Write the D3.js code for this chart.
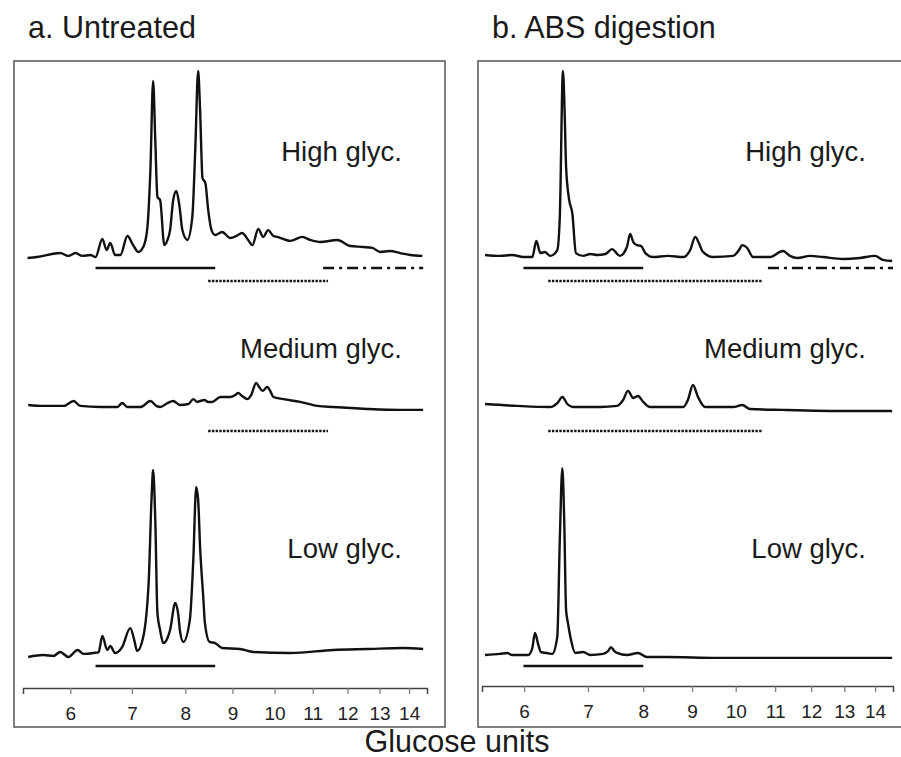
<!DOCTYPE html>
<html>
  <head>
    <meta charset="utf-8">
    <title>Glycan profiles</title>
    <script src="https://d3js.org/d3.v7.min.js"></script>
    <style>
      body { margin: 0; background: #fff; }
      text { font-family: "Liberation Sans", Arial, sans-serif; fill: #1a1a1a; }
    </style>
  </head>
  <body>
    <script>

      // glucose unit tick values on both x axes
      var glucoseTicks = [6, 7, 8, 9, 10, 11, 12, 13, 14];

      // traces: [glucose units, relative intensity]
      var untreatedHigh = [[5.39,2.1],[5.52,2.6],[5.85,4.7],[5.97,3.2],[6.08,4.7],[6.18,3.2],[6.31,3.7],[6.39,2.6],[6.50,12.1],[6.57,6.3],[6.63,10.0],[6.71,3.7],[6.80,3.7],[6.92,13.7],[7.02,8.9],[7.11,5.3],[7.20,7.9],[7.27,16.8],[7.33,48.4],[7.38,95.3],[7.42,64.2],[7.46,34.2],[7.51,32.6],[7.59,8.9],[7.65,11.6],[7.70,16.8],[7.76,32.6],[7.82,37.4],[7.88,30.0],[7.94,16.8],[8.04,11.6],[8.14,23.7],[8.20,58.9],[8.26,100.5],[8.30,80],[8.35,44.2],[8.41,41.6],[8.47,27.4],[8.54,16.8],[8.62,14.2],[8.77,15.8],[8.95,12.6],[9.09,13.7],[9.22,15.3],[9.36,11.6],[9.46,8.9],[9.60,17.4],[9.72,13.2],[9.84,16.8],[9.97,13.7],[10.07,13.2],[10.40,11.1],[10.72,13.2],[10.93,11.6],[11.21,10.5],[11.70,11.6],[12.08,8.4],[12.48,7.9],[12.77,7.4],[13.02,5.3],[13.35,5.8],[13.69,4.7],[14.04,3.7],[14.47,3.2]];
      var untreatedMedium = [[5.40,3.7],[5.61,3.2],[5.90,3.2],[6.05,5.8],[6.15,3.2],[6.47,2.6],[6.75,2.6],[6.83,4.7],[6.92,2.6],[7.15,2.6],[7.33,5.8],[7.44,3.2],[7.51,2.6],[7.65,4.7],[7.76,5.8],[7.89,3.7],[8.06,4.2],[8.16,6.8],[8.24,5.3],[8.30,5.8],[8.39,6.3],[8.47,5.3],[8.56,5.3],[8.73,7.9],[8.95,7.9],[9.06,8.9],[9.13,10],[9.22,8.4],[9.34,6.8],[9.43,8.9],[9.55,15.3],[9.62,13.2],[9.70,11.1],[9.82,13.2],[9.89,11.1],[9.97,7.9],[10.22,6.8],[10.66,5.3],[11.13,3.2],[11.58,2.6],[12.61,1.6],[13.69,1.1],[14.50,1.1]];
      var untreatedLow = [[5.40,1.6],[5.61,2.6],[5.75,2.1],[5.85,4.2],[5.97,1.6],[6.11,5.3],[6.20,3.2],[6.36,3.7],[6.44,4.2],[6.50,12.6],[6.58,5.3],[6.63,7.4],[6.71,3.7],[6.83,6.8],[6.97,16.8],[7.04,10.5],[7.09,4.7],[7.20,12.1],[7.30,42.1],[7.35,84.2],[7.38,100],[7.42,73.7],[7.46,24.7],[7.51,15.8],[7.57,8.9],[7.65,11.6],[7.70,15.8],[7.80,30.0],[7.86,23.7],[7.89,15.8],[7.96,9.5],[8.09,21.1],[8.16,52.6],[8.22,91.1],[8.26,84.2],[8.30,59.5],[8.37,31.6],[8.40,19.5],[8.50,9.5],[8.62,8.9],[8.77,6.3],[9.17,5.8],[9.48,4.2],[10.40,3.7],[11.58,5.3],[12.61,5.8],[13.79,6.3],[14.50,5.8]];

      var absHigh = [[5.46,3.7],[5.66,3.2],[5.83,3.7],[5.99,2.6],[6.12,2.6],[6.18,11.1],[6.24,4.7],[6.31,5.3],[6.39,3.2],[6.50,6.3],[6.54,23.7],[6.59,100.5],[6.62,74.7],[6.64,50],[6.69,32.6],[6.74,25.8],[6.80,4.7],[6.92,3.2],[7.04,4.2],[7.16,3.7],[7.30,4.2],[7.42,6.8],[7.56,3.2],[7.69,7.9],[7.75,14.7],[7.81,10.5],[7.88,8.9],[7.96,8.4],[8.04,4.7],[8.19,2.6],[8.49,3.2],[8.81,2.6],[8.96,6.3],[9.07,13.2],[9.15,10],[9.24,5.3],[9.47,2.6],[9.94,3.2],[10.08,6.3],[10.16,8.9],[10.28,7.4],[10.43,2.6],[10.86,2.6],[11.21,5.8],[11.40,3.2],[11.60,2.1],[11.97,3.2],[12.35,2.6],[12.96,1.6],[13.50,2.1],[14.0,3.2],[14.27,1.1],[14.59,0.5]];
      var absMedium = [[5.46,4.2],[5.90,3.2],[6.39,2.6],[6.50,4.7],[6.58,7.9],[6.66,4.2],[6.75,2.6],[7.21,2.6],[7.51,3.2],[7.62,6.3],[7.71,11.1],[7.81,7.4],[7.90,8.4],[8.0,5.3],[8.13,2.6],[8.81,2.6],[8.91,6.3],[9.02,14.2],[9.13,7.9],[9.29,2.6],[9.94,2.6],[10.16,3.7],[10.35,1.6],[11.21,1.1],[13.18,0.5],[14.59,0.5]];
      var absLow = [[5.46,2.6],[5.66,3.2],[5.76,3.7],[5.83,2.6],[6.06,2.6],[6.12,6.3],[6.16,14.2],[6.21,7.9],[6.25,4.2],[6.34,3.7],[6.42,3.2],[6.50,12.1],[6.54,63.2],[6.58,101],[6.61,73.7],[6.64,26.3],[6.67,19.5],[6.72,10.5],[6.79,3.7],[6.92,4.2],[7.04,2.6],[7.26,3.2],[7.35,4.7],[7.40,6.8],[7.46,4.7],[7.51,3.7],[7.69,2.6],[7.90,3.7],[8.07,1.6],[8.47,1.6],[9.56,1.1],[11.21,1.1],[14.59,1.1]];

      // fraction bars under each trace: [from, to] in glucose units
      var untreatedHighBars = { solid: [6.39, 8.62], dotted: [8.47, 11.43], dashdot: [11.29, 14.5] };
      var untreatedMediumBars = { dotted: [8.47, 11.43] };
      var untreatedLowBars = { solid: [6.39, 8.62] };
      var absHighBars = { solid: [5.99, 8.0], dotted: [6.36, 10.68], dashdot: [10.81, 14.62] };
      var absMediumBars = { dotted: [6.36, 10.68] };
      var absLowBars = { solid: [5.99, 8.0] };

      var trackNames = ["High glyc.", "Medium glyc.", "Low glyc."];

      var svg = d3.select("body").append("svg")
                  .attr("width", 901)
                  .attr("height", 757);

      // y position of zero intensity for each track, and label baselines
      var trackZero = [262, 412, 660];
      var labelY = [161, 358, 558];

      var panels = [
        { title: "a. Untreated", titleX: 28, box: [14, 61, 431, 666], axisY: 688, labelX: 402,
          x: d3.scaleLog().domain([5.33, 14.64]).range([23, 427]),
          traces: [untreatedHigh, untreatedMedium, untreatedLow],
          bars: [untreatedHighBars, untreatedMediumBars, untreatedLowBars] },
        { title: "b. ABS digestion", titleX: 492, box: [478, 61, 430, 666], axisY: 686, labelX: 866,
          x: d3.scaleLog().domain([5.42, 14.62]).range([482, 893]),
          traces: [absHigh, absMedium, absLow],
          bars: [absHighBars, absMediumBars, absLowBars] }
      ];

      var barStyle = {
        solid:   { dash: null,       width: 2.6, dy: 6 },
        dotted:  { dash: "2.4,1.3",  width: 2.6, dy: 19 },
        dashdot: { dash: "11,5,3,5", width: 2.6, dy: 6 }
      };

      panels.forEach(function(p) {
        var g = svg.append("g");

        g.append("rect")
          .attr("x", p.box[0]).attr("y", p.box[1])
          .attr("width", p.box[2]).attr("height", p.box[3])
          .attr("fill", "none")
          .attr("stroke", "#555")
          .attr("stroke-width", 1.5);

        g.append("text")
          .attr("x", p.titleX).attr("y", 38)
          .style("font-size", "30.5px")
          .text(p.title);

        p.traces.forEach(function(data, i) {
          var y = d3.scaleLinear().domain([0, 100]).range([trackZero[i], trackZero[i] - 190]);

          var line = d3.line()
                      .x(function(d) { return p.x(d[0]); })
                      .y(function(d) { return y(d[1]); })
                      .curve(d3.curveMonotoneX);

          g.append("path")
            .datum(data)
            .attr("d", line)
            .attr("fill", "none")
            .attr("stroke", "#111")
            .attr("stroke-width", 2.4)
            .attr("stroke-linejoin", "round");

          Object.keys(p.bars[i]).forEach(function(k) {
            var b = p.bars[i][k], s = barStyle[k];
            g.append("line")
              .attr("x1", p.x(b[0])).attr("x2", p.x(b[1]))
              .attr("y1", trackZero[i] + s.dy).attr("y2", trackZero[i] + s.dy)
              .attr("stroke", "#111")
              .attr("stroke-width", s.width)
              .attr("stroke-dasharray", s.dash);
          });

          g.append("text")
            .attr("x", p.labelX).attr("y", labelY[i])
            .attr("text-anchor", "end")
            .style("font-size", "27.5px")
            .text(trackNames[i]);
        });

        var axis = g.append("g")
                    .attr("transform", "translate(0," + p.axisY + ")")
                    .call(d3.axisBottom(p.x)
                            .tickValues(glucoseTicks)
                            .tickFormat(d3.format("d"))
                            .tickSizeOuter(0)
                            .tickSize(6)
                            .tickPadding(13));
        axis.select(".domain").attr("stroke", "#444").attr("stroke-width", 1.5);
        axis.selectAll(".tick line").attr("stroke", "#777").attr("stroke-width", 1.2);
        axis.selectAll(".tick text")
            .style("font-size", "19px")
            .style("font-family", "Liberation Sans, Arial, sans-serif")
            .style("fill", "#222");
      });

      svg.append("text")
        .attr("x", 457).attr("y", 752)
        .attr("text-anchor", "middle")
        .style("font-size", "30.5px")
        .text("Glucose units");

    </script>
  </body>
</html>
